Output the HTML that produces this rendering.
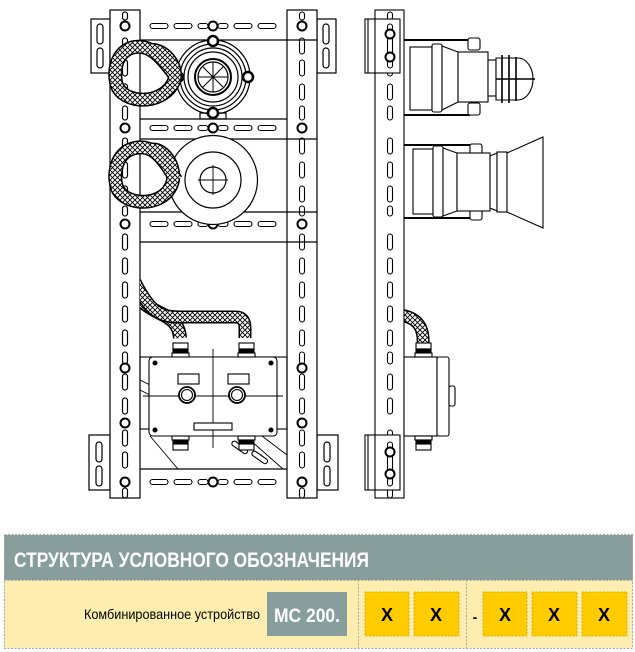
<!DOCTYPE html>
<html><head><meta charset="utf-8"><style>
html,body{margin:0;padding:0;background:#fff;width:635px;height:652px;overflow:hidden}
svg{position:absolute;left:0;top:0}
</style></head><body>
<svg width="635" height="652" viewBox="0 0 635 652" xmlns="http://www.w3.org/2000/svg">
<defs>
<pattern id="h" width="5" height="5" patternUnits="userSpaceOnUse">
<rect width="5" height="5" fill="#fff"/>
<path d="M0 0L5 5M5 0L0 5" stroke="#000" stroke-width="0.9"/>
</pattern>
<clipPath id="cl"><rect x="140" y="0" width="300" height="500"/></clipPath>
<clipPath id="cr"><rect x="404" y="0" width="100" height="500"/></clipPath>
</defs>
<g fill="none" stroke="#000" stroke-width="1.2">
<rect x="91" y="19" width="19" height="54" fill="#fff"/>
<rect x="317" y="19" width="19" height="54" fill="#fff"/>
<rect x="89" y="435" width="21" height="55" fill="#fff"/>
<rect x="317" y="435" width="21" height="55" fill="#fff"/>
<rect x="97" y="24" width="6" height="20" rx="3"/><rect x="97" y="48" width="6" height="20" rx="3"/>
<rect x="323" y="24" width="6" height="20" rx="3"/><rect x="323" y="48" width="6" height="20" rx="3"/>
<rect x="96" y="442" width="6" height="20" rx="3"/><rect x="96" y="466" width="6" height="20" rx="3"/>
<rect x="324" y="442" width="6" height="20" rx="3"/><rect x="324" y="466" width="6" height="20" rx="3"/>
<rect x="110" y="10" width="30" height="488" fill="#fff"/>
<rect x="287" y="10" width="30" height="488" fill="#fff"/>
<line x1="140" y1="40" x2="287" y2="40"/><line x1="140" y1="119" x2="287" y2="119"/>
<line x1="140" y1="139" x2="287" y2="139"/><line x1="140" y1="212" x2="287" y2="212"/>
<line x1="140" y1="242" x2="287" y2="242"/><line x1="140" y1="469" x2="287" y2="469"/>
<line x1="287" y1="40" x2="317" y2="40"/><line x1="287" y1="139" x2="317" y2="139"/>
<line x1="287" y1="212" x2="317" y2="212"/><line x1="287" y1="242" x2="317" y2="242"/>
</g>
<g fill="none" stroke="#000" stroke-width="1.1">
<g id="hs">
<rect x="150" y="23.5" width="18" height="5" rx="2.5"/><rect x="174" y="23.5" width="18" height="5" rx="2.5"/>
<rect x="198" y="23.5" width="10" height="5" rx="2.5"/><rect x="218" y="23.5" width="10" height="5" rx="2.5"/>
<rect x="234" y="23.5" width="18" height="5" rx="2.5"/><rect x="258" y="23.5" width="18" height="5" rx="2.5"/>
<circle cx="213" cy="26" r="4.5" stroke-width="2"/>
</g>
<use href="#hs" y="102"/><use href="#hs" y="198"/><use href="#hs" y="456"/>
<g id="sl">
<rect x="122.5" y="12" width="5" height="8" rx="2.5"/>
<rect x="122.5" y="38" width="5" height="16" rx="2.5"/><rect x="122.5" y="60" width="5" height="16" rx="2.5"/>
<rect x="122.5" y="84" width="5" height="16" rx="2.5"/><rect x="122.5" y="106" width="5" height="14" rx="2.5"/>
<rect x="122.5" y="138" width="5" height="16" rx="2.5"/><rect x="122.5" y="162" width="5" height="16" rx="2.5"/>
<rect x="122.5" y="186" width="5" height="16" rx="2.5"/><rect x="122.5" y="206" width="5" height="10" rx="2.5"/>
<rect x="122.5" y="234" width="5" height="16" rx="2.5"/><rect x="122.5" y="258" width="5" height="16" rx="2.5"/>
<rect x="122.5" y="282" width="5" height="16" rx="2.5"/><rect x="122.5" y="306" width="5" height="16" rx="2.5"/>
<rect x="122.5" y="330" width="5" height="16" rx="2.5"/><rect x="122.5" y="352" width="5" height="12" rx="2.5"/>
<rect x="122.5" y="374" width="5" height="16" rx="2.5"/><rect x="122.5" y="398" width="5" height="16" rx="2.5"/>
<rect x="122.5" y="430" width="5" height="16" rx="2.5"/><rect x="122.5" y="452" width="5" height="16" rx="2.5"/>
<rect x="122.5" y="488" width="5" height="10" rx="2.5"/>
</g>
<g id="vs">
<use href="#sl"/>
<circle cx="125" cy="26" r="4.5" stroke-width="2" fill="#fff"/><circle cx="125" cy="128" r="4.5" stroke-width="2" fill="#fff"/>
<circle cx="125" cy="224" r="4.5" stroke-width="2" fill="#fff"/><circle cx="125" cy="368" r="4.5" stroke-width="2" fill="#fff"/>
<circle cx="125" cy="423" r="4.5" stroke-width="2" fill="#fff"/><circle cx="125" cy="482" r="4.5" stroke-width="2" fill="#fff"/>
</g>
<use href="#vs" x="177"/>
<use href="#sl" x="265"/>
</g>
<g fill="none" stroke="#000" stroke-width="1.2">
<circle cx="213" cy="77" r="37" fill="#fff"/><circle cx="213" cy="77" r="33"/><circle cx="213" cy="77" r="29"/><circle cx="213" cy="77" r="25"/>
<circle cx="213" cy="77" r="18" stroke-width="2"/><circle cx="213" cy="77" r="15"/>
<path d="M213 62V92M198 77H228M202.4 66.4L223.6 87.6M223.6 66.4L202.4 87.6" stroke-width="1"/>
<rect x="200" y="113" width="26" height="6"/>
<circle cx="213" cy="41" r="5" stroke-width="2.5" fill="#fff"/><circle cx="213" cy="113" r="5" stroke-width="2.5" fill="#fff"/>
<circle cx="178" cy="77" r="5" stroke-width="2.5" fill="#fff"/><circle cx="248" cy="77" r="5" stroke-width="2.5" fill="#fff"/>
<circle cx="213" cy="180" r="44.5" fill="#fff"/><circle cx="213" cy="180" r="28"/><circle cx="213" cy="180" r="13"/>
<path d="M213 165V195M198 180H228" stroke-width="0.9"/>
</g>
<g fill="none">
<path d="M176 77C160 55 150 45 135 47C115 50 112 75 118 88C128 104 160 104 172 85C182 70 165 48 150 50" stroke="#000" stroke-width="14"/>
<path d="M176 77C160 55 150 45 135 47C115 50 112 75 118 88C128 104 160 104 172 85C182 70 165 48 150 50" stroke="url(#h)" stroke-width="11"/>
<path d="M176 180C160 152 150 145 135 148C115 152 112 177 118 190C128 206 160 206 170 188C180 172 165 146 150 150" stroke="#000" stroke-width="14"/>
<path d="M176 180C160 152 150 145 135 148C115 152 112 177 118 190C128 206 160 206 170 188C180 172 165 146 150 150" stroke="url(#h)" stroke-width="11"/>
<g clip-path="url(#cl)">
<path d="M135 292C150 318 178 310 180 338" stroke="#000" stroke-width="14"/>
<path d="M135 292C150 318 178 310 180 338" stroke="url(#h)" stroke-width="11"/>
<path d="M135 282C150 312 160 317 180 317H236Q245 317 245 328V338" stroke="#000" stroke-width="13"/>
<path d="M135 282C150 312 160 317 180 317H236Q245 317 245 328V338" stroke="url(#h)" stroke-width="10"/>
</g>
<g clip-path="url(#cr)">
<path d="M400 315C420 318 424 330 423 345" stroke="#000" stroke-width="13"/>
<path d="M400 315C420 318 424 330 423 345" stroke="url(#h)" stroke-width="10"/>
</g>
</g>
<g fill="#fff" stroke="#000" stroke-width="1.1">
<rect x="140" y="357" width="147" height="72" fill="none"/>
<path d="M140 380L150 385M140 390L150 395M250 440L283 469M262 436L287 455M150 436L178 469" fill="none" stroke-width="0.9"/>
<rect x="231" y="445" width="18" height="5" rx="2.5" transform="rotate(35 240 447)"/>
<rect x="251" y="455" width="18" height="5" rx="2.5" transform="rotate(35 260 457)"/>
<rect x="149" y="357" width="128" height="79" rx="4"/>
<circle cx="155" cy="363" r="2" fill="#000"/><circle cx="271" cy="363" r="2" fill="#000"/>
<circle cx="155" cy="430" r="2" fill="#000"/><circle cx="271" cy="430" r="2" fill="#000"/>
<path d="M213 349V448M143 396H283" fill="none" stroke-width="0.9"/>
<rect x="178" y="374" width="21" height="10"/><rect x="228" y="374" width="21" height="10"/>
<circle cx="187" cy="395" r="8" stroke-width="1.8"/><circle cx="187" cy="395" r="5.5"/>
<circle cx="237" cy="395" r="8" stroke-width="1.8"/><circle cx="237" cy="395" r="5.5"/>
<rect x="194" y="423" width="38" height="7"/>
<g id="gl"><rect x="173" y="343" width="15" height="6"/><rect x="173" y="349" width="15" height="4" fill="#000"/><rect x="172" y="353" width="17" height="4"/></g>
<use href="#gl" x="66"/>
<g id="gl2"><rect x="172" y="436" width="17" height="4"/><rect x="173" y="440" width="15" height="4" fill="#000"/><rect x="173" y="444" width="15" height="6"/></g>
<use href="#gl2" x="66"/>
<rect x="365" y="19" width="35" height="54"/>
<rect x="365" y="435" width="35" height="55"/>
<rect x="375" y="10" width="29" height="488" fill="none"/>
<path d="M368 19V73M368 435V490" fill="none"/>
<rect x="387.5" y="24" width="5" height="44" rx="2.5" fill="none"/>
<rect x="387.5" y="442" width="5" height="44" rx="2.5" fill="none"/>
<circle cx="390" cy="34" r="4.5" stroke-width="2"/><circle cx="390" cy="57" r="4.5" stroke-width="2"/>
<circle cx="390" cy="452" r="4.5" stroke-width="2"/><circle cx="390" cy="474" r="4.5" stroke-width="2"/>
<path d="M404 40H470M404 115H470" fill="none" stroke-width="2"/>
<rect x="468" y="38" width="12" height="12" rx="2"/><rect x="468" y="103" width="12" height="12" rx="2"/>
<rect x="410" y="47" width="22" height="63"/>
<rect x="432" y="44" width="10" height="68" rx="2"/>
<path d="M442 46L458 52V102L442 110Z"/>
<rect x="458" y="52" width="30" height="50"/>
<rect x="488" y="60" width="8" height="36"/>
<path d="M496 58H518A15 21 0 0 1 518 100H496Z"/>
<path d="M496 79H535M502 55V103M509 55V103M516 57V101" fill="none" stroke-width="1.6"/>
<path d="M404 145H470M404 218H470" fill="none" stroke-width="2"/>
<rect x="470" y="144" width="12" height="10" rx="2"/><rect x="470" y="210" width="12" height="10" rx="2"/>
<rect x="413" y="149" width="20" height="65"/>
<rect x="433" y="146" width="10" height="71" rx="2"/>
<path d="M443 148L457 153V211L443 216Z"/>
<rect x="457" y="153" width="33" height="58"/>
<path d="M490 156L497 153V211L490 208Z"/>
<rect x="497" y="152" width="10" height="60"/>
<path d="M507 153L543 137V228L507 212Z"/>
<rect x="404" y="357" width="33" height="79"/>
<rect x="437" y="357" width="12" height="79" rx="2"/>
<rect x="449" y="386" width="6" height="20" rx="2"/>
<rect x="416" y="343" width="15" height="6"/><rect x="416" y="349" width="15" height="4" fill="#000"/><rect x="415" y="353" width="17" height="4"/>
<rect x="415" y="436" width="17" height="4"/><rect x="416" y="440" width="15" height="4" fill="#000"/><rect x="416" y="444" width="15" height="6"/>
</g>
<rect x="4" y="535" width="629" height="45" fill="#889e9c"/>
<rect x="4" y="580" width="629" height="68" fill="#fdeeb0"/>
<g fill="none" stroke="#aaa" stroke-dasharray="2,1.5" stroke-width="1">
<rect x="4.5" y="534.5" width="628" height="114"/>
<line x1="4" y1="580.5" x2="633" y2="580.5"/>
<line x1="358.5" y1="580" x2="358.5" y2="648"/><line x1="466.5" y1="580" x2="466.5" y2="648"/>
</g>
<rect x="267" y="592" width="80" height="44" fill="#889e9c"/>
<g fill="#ffcc00" stroke="#c9a000" stroke-dasharray="2,1.5" stroke-width="0.8">
<rect x="365" y="592" width="44" height="44"/><rect x="414" y="592" width="45" height="44"/>
<rect x="483" y="592" width="44" height="44"/><rect x="532" y="592" width="45" height="44"/><rect x="582" y="592" width="45" height="44"/>
</g>
<g font-family="Liberation Sans, sans-serif" font-weight="bold">
<text x="14" y="567" fill="#fff" font-size="21" textLength="355" lengthAdjust="spacingAndGlyphs">СТРУКТУРА УСЛОВНОГО ОБОЗНАЧЕНИЯ</text>
<text x="307" y="622" fill="#fff" font-size="19" text-anchor="middle" textLength="66" lengthAdjust="spacingAndGlyphs">МС 200.</text>
<g font-size="18" text-anchor="middle" fill="#000">
<text x="387" y="621">X</text><text x="436" y="621">X</text><text x="505" y="621">X</text><text x="554" y="621">X</text><text x="604" y="621">X</text>
<text x="475" y="622" font-size="14">-</text>
</g>
</g>
<text x="260" y="619" font-family="Liberation Sans, sans-serif" font-size="14" text-anchor="end" fill="#000" textLength="176" lengthAdjust="spacingAndGlyphs">Комбинированное устройство</text>
</svg>
</body></html>
